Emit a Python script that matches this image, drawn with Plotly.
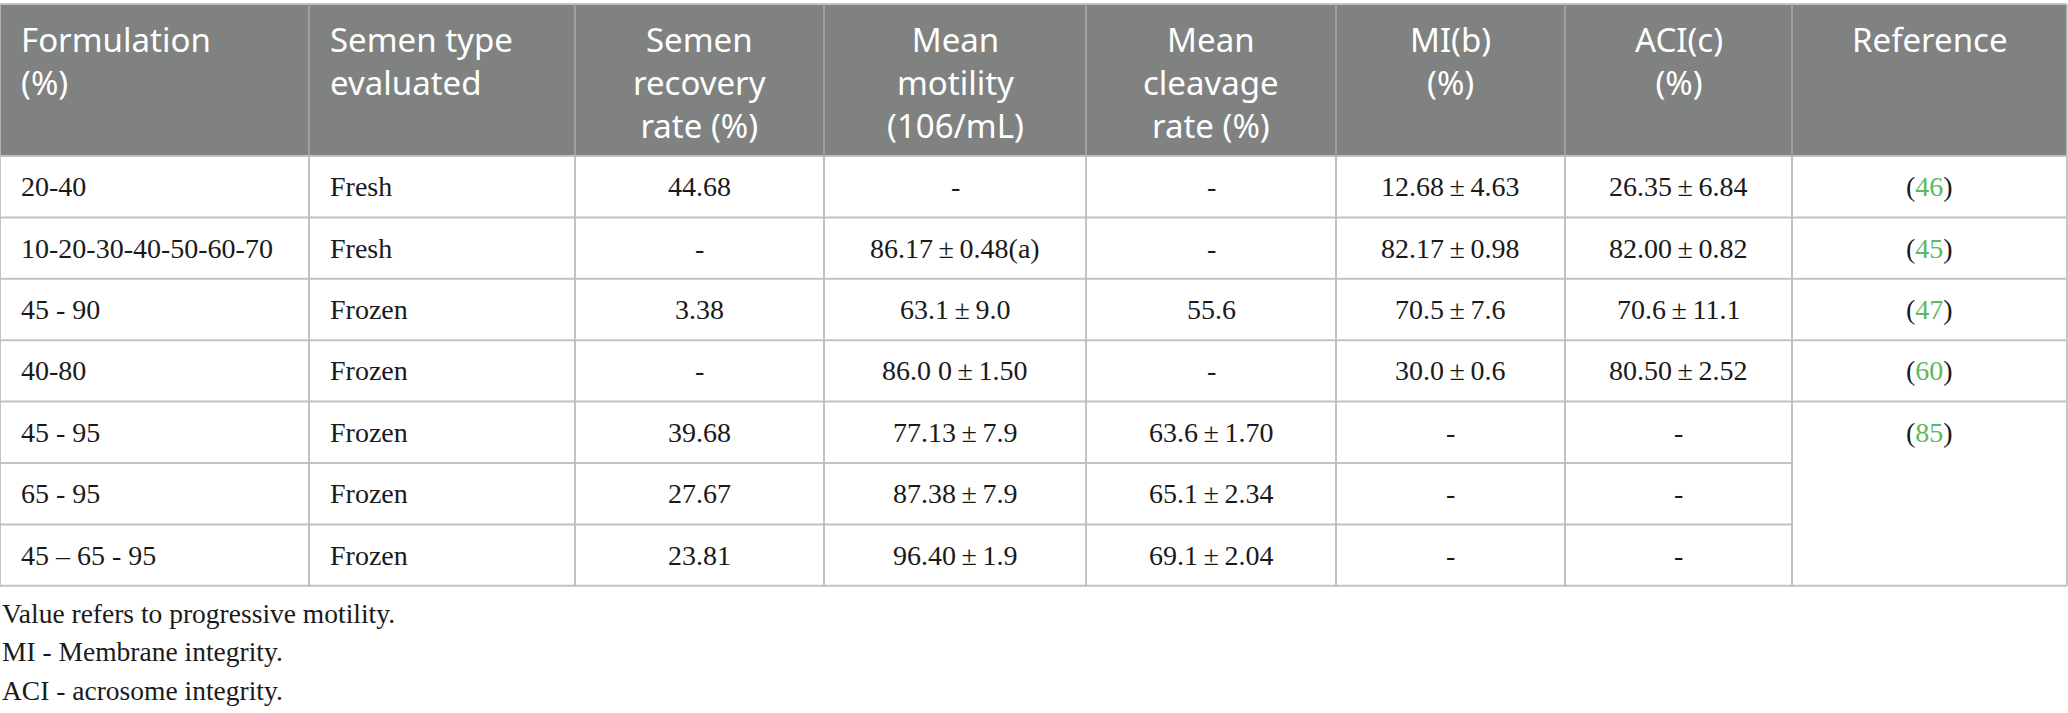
import plotly.graph_objects as go

# table content
headers = ["Formulation<br>(%)", "Semen type<br>evaluated", "Semen<br>recovery<br>rate (%)",
           "Mean<br>motility<br>(106/mL)", "Mean<br>cleavage<br>rate (%)", "MI(b)<br>(%)",
           "ACI(c)<br>(%)", "Reference"]
formulation = ["20-40", "10-20-30-40-50-60-70", "45 - 90", "40-80", "45 - 95", "65 - 95", "45 \u2013 65 - 95"]
semen_type = ["Fresh", "Fresh", "Frozen", "Frozen", "Frozen", "Frozen", "Frozen"]
recovery = ["44.68", "-", "3.38", "-", "39.68", "27.67", "23.81"]
motility = ["-", "86.17\u2009±\u20090.48(a)", "63.1\u2009±\u20099.0", "86.0 0\u2009±\u20091.50",
            "77.13\u2009±\u20097.9", "87.38\u2009±\u20097.9", "96.40\u2009±\u20091.9"]
cleavage = ["-", "-", "55.6", "-", "63.6\u2009±\u20091.70", "65.1\u2009±\u20092.34", "69.1\u2009±\u20092.04"]
mi = ["12.68\u2009±\u20094.63", "82.17\u2009±\u20090.98", "70.5\u2009±\u20097.6", "30.0\u2009±\u20090.6", "-", "-", "-"]
aci = ["26.35\u2009±\u20096.84", "82.00\u2009±\u20090.82", "70.6\u2009±\u200911.1", "80.50\u2009±\u20092.52", "-", "-", "-"]
refs = ["46", "45", "47", "60", "85", None, None]   # last one spans three rows
footnotes = ["Value refers to progressive motility.", "MI - Membrane integrity.", "ACI - acrosome integrity."]

W, H = 2068, 713
col_x = [0, 309, 575, 824, 1086, 1336, 1565, 1792, 2067]
head_top, head_bot = 4, 156
row_h = 61.4
n_rows = len(formulation)
row_y = [head_bot + i * row_h for i in range(n_rows + 1)]

HEAD_BG = "#808281"
LINE = "#c2c2c2"
GREEN = "#5cb860"
SERIF = "Liberation Serif"
SANS = "Noto Sans"

shapes = []
annotations = []

# header background
shapes.append(dict(type="rect", x0=col_x[0], x1=col_x[-1], y0=head_top, y1=head_bot,
                   fillcolor=HEAD_BG, line=dict(width=0), layer="below"))

for j, h in enumerate(headers):
    left = j < 2
    annotations.append(dict(
        x=col_x[j] + 19 if left else (col_x[j] + col_x[j + 1]) / 2,
        y=head_top + 11, text=h, showarrow=False,
        xanchor="left" if left else "center", yanchor="top",
        align="left" if left else "center",
        font=dict(family=SANS, size=33, color="white")))

columns = [formulation, semen_type, recovery, motility, cleavage, mi, aci]
for i in range(n_rows):
    yc = (row_y[i] + row_y[i + 1]) / 2
    for j, col in enumerate(columns):
        left = j < 2
        annotations.append(dict(
            x=col_x[j] + 19 if left else (col_x[j] + col_x[j + 1]) / 2,
            y=yc, text=col[i], showarrow=False,
            xanchor="left" if left else "center", yanchor="middle",
            font=dict(family=SERIF, size=28, color="#1a1a1a")))
    if refs[i] is not None:
        annotations.append(dict(
            x=(col_x[7] + col_x[8]) / 2, y=yc,
            text="(<span style='color:%s'>%s</span>)" % (GREEN, refs[i]),
            showarrow=False, xanchor="center", yanchor="middle",
            font=dict(family=SERIF, size=28, color="#1a1a1a")))

# horizontal lines
for i, y in enumerate(row_y):
    x1 = col_x[-1]
    if i in (5, 6):
        x1 = col_x[7]   # merged reference cell
    shapes.append(dict(type="line", x0=col_x[0], x1=x1, y0=y, y1=y,
                       line=dict(color=LINE, width=2)))
shapes.append(dict(type="line", x0=col_x[0], x1=col_x[-1], y0=head_top, y1=head_top,
                   line=dict(color=LINE, width=2)))

# vertical lines
for k, x in enumerate(col_x):
    shapes.append(dict(type="line", x0=x, x1=x, y0=head_top, y1=row_y[-1],
                       line=dict(color=LINE if k in (0, len(col_x) - 1) else "#a9aaa9", width=1.5),
                       layer="above"))
    shapes.append(dict(type="line", x0=x, x1=x, y0=head_bot, y1=row_y[-1],
                       line=dict(color=LINE, width=1.5)))

# footnotes (x must stay inside the axis range or plotly hides them)
for k, t in enumerate(footnotes):
    annotations.append(dict(x=0, y=613 + k * 38.5, text=t, showarrow=False,
                            xanchor="left", yanchor="middle",
                            font=dict(family=SERIF, size=27.5, color="#1a1a1a")))

fig = go.Figure()
fig.add_trace(go.Scatter(x=[0, W], y=[0, H], mode="markers", marker=dict(opacity=0),
                         hoverinfo="skip", showlegend=False))
fig.update_layout(
    width=W, height=H,
    margin=dict(l=0, r=0, t=0, b=0),
    paper_bgcolor="white", plot_bgcolor="white",
    xaxis=dict(range=[0, W], visible=False, fixedrange=True),
    yaxis=dict(range=[H, 0], visible=False, fixedrange=True),
    shapes=shapes, annotations=annotations,
)
# drop the browser's default page margin so the figure sits at the top-left corner
fig.write_html("out.html", config={"displayModeBar": False},
               post_script="document.body.style.margin='0';")
